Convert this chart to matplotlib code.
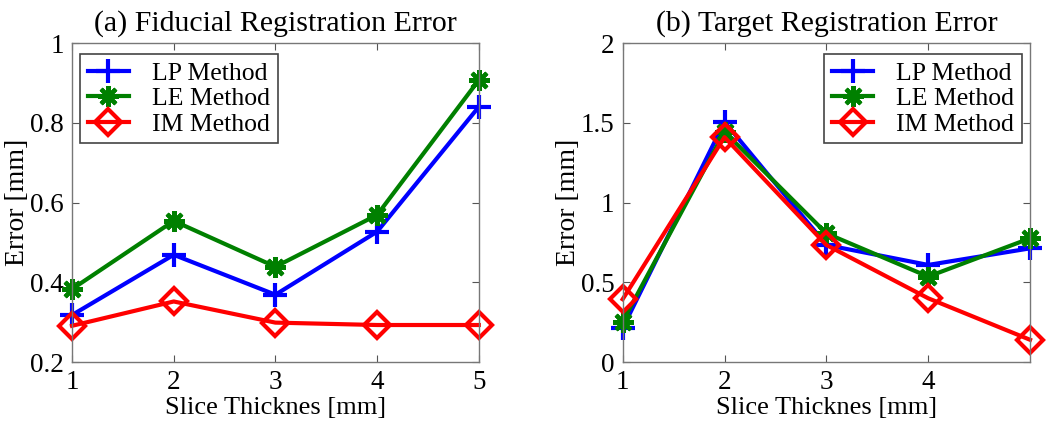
import numpy as np
import matplotlib
matplotlib.use('Agg')
import matplotlib.pyplot as plt

plt.rcParams['font.family'] = ['Liberation Serif', 'DejaVu Serif']

thickness = [1, 2, 3, 4, 5]

# (a) fiducial registration error
fre_lp = [0.318, 0.469, 0.369, 0.527, 0.840]
fre_le = [0.383, 0.554, 0.439, 0.569, 0.907]
fre_im = [0.291, 0.352, 0.299, 0.293, 0.293]

# (b) target registration error
tre_lp = [0.213, 1.506, 0.734, 0.609, 0.713]
tre_le = [0.254, 1.443, 0.807, 0.536, 0.776]
tre_im = [0.394, 1.410, 0.734, 0.400, 0.140]

labels = ['LP Method', 'LE Method', 'IM Method']

fig = plt.figure(figsize=(10.5, 4.26), dpi=100)
ax1 = fig.add_axes([0.0686, 0.150, 0.3874, 0.749])
ax2 = fig.add_axes([0.593, 0.150, 0.388, 0.749])

def draw(ax, lp, le, im):
    ax.plot(thickness, lp, color='#0000ff', lw=3, marker='+', ms=17, mew=3,
            label=labels[0], clip_on=False)
    ax.plot(thickness, le, color='#008000', lw=3, marker=(8, 2, 0), ms=15, mew=3,
            label=labels[1], clip_on=False)
    ax.plot(thickness, im, color='#ff0000', lw=3, marker='D', ms=13, mew=3,
            mfc='none', label=labels[2], clip_on=False)

draw(ax1, fre_lp, fre_le, fre_im)
draw(ax2, tre_lp, tre_le, tre_im)

ax1.set_xlim(1, 5)
ax1.set_ylim(0.2, 1)
ax1.set_xticks([1, 2, 3, 4, 5])
ax1.set_yticks([0.2, 0.4, 0.6, 0.8, 1])
ax1.set_yticklabels(['0.2', '0.4', '0.6', '0.8', '1'])
ax1.set_title('(a) Fiducial Registration Error', fontsize=21.5, pad=9)

ax2.set_xlim(1, 5)
ax2.set_ylim(0, 2)
ax2.set_xticks([1, 2, 3, 4])
ax2.set_yticks([0, 0.5, 1, 1.5, 2])
ax2.set_yticklabels(['0', '0.5', '1', '1.5', '2'])
ax2.set_title('(b) Target Registration Error', fontsize=21.5, pad=9)

for ax in (ax1, ax2):
    ax.set_xlabel('Slice Thicknes [mm]', fontsize=19, labelpad=1)
    ax.set_ylabel('Error [mm]', fontsize=20, labelpad=0)
    ax.tick_params(direction='in', top=True, right=True, labelsize=19.5, length=5,
                   color='#555555', pad=6)
    for s in ax.spines.values():
        s.set_color('#777777')
        s.set_linewidth(1)

leg_kw = dict(fontsize=18.5, fancybox=False, edgecolor='#444444', framealpha=1,
              handlelength=1.6, labelspacing=0.1, borderpad=0.3, handletextpad=0.9,
              borderaxespad=0)
l1 = ax1.legend(loc='upper left', bbox_to_anchor=(0.02, 0.966), **leg_kw)
l2 = ax2.legend(loc='upper right', bbox_to_anchor=(0.98, 0.966), **leg_kw)
for l in (l1, l2):
    l.get_frame().set_linewidth(1.2)

plt.savefig('out.png', dpi=100)
